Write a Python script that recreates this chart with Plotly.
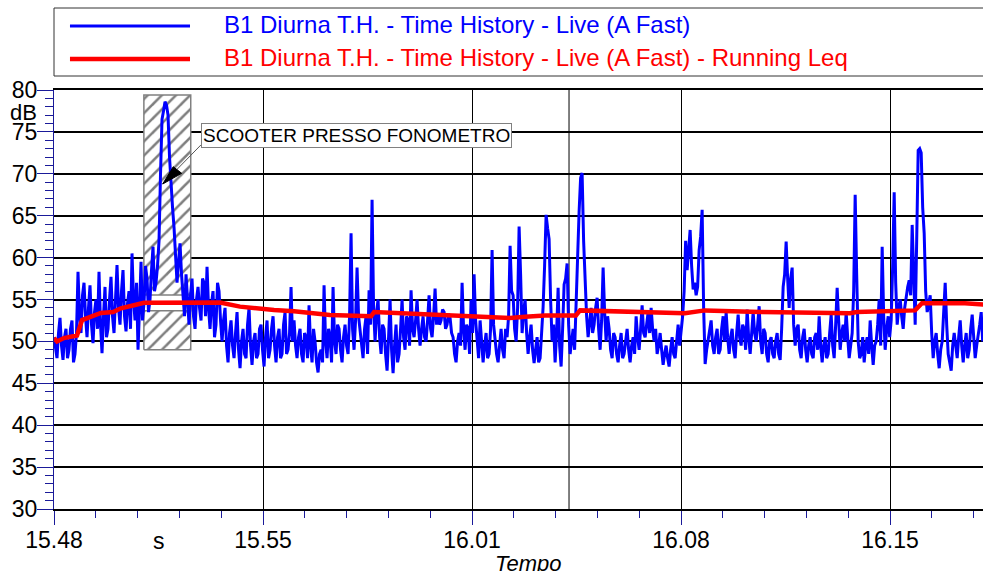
import numpy as np
import plotly.graph_objects as go

# ---------------- data ----------------
# x axis in minutes from 15:48; tick labels as printed on the chart
tick_minutes = [0, 7, 14, 21, 28]
tick_labels = ["15.48", "15.55", "16.01", "16.08", "16.15"]
x_end_min = 31.115
marker_line_min = 17.25          # unlabeled vertical marker line
sample_step_min = 0.1005         # spacing of the main time-history samples

# main samples (dB) and the in-between samples (dB, each one follows the main sample)
blue_a = [
    50.5, 48, 52.8, 47.8, 51.5, 49, 52.5, 48.5, 58.3, 51,
    57, 50.5, 56.7, 49.8, 55, 58.3, 48.6, 56.5, 51.5, 57.7,
    51, 59.1, 52, 58.5, 51.2, 56, 60.5, 52.5, 49, 59.5,
    54.6, 57.5, 55, 61.3, 57, 62, 76.5, 78.6, 77, 68,
    63.6, 57, 61.7, 55.5, 58, 52, 57.5, 51.5, 56.5, 52.5,
    57, 58.9, 51.5, 56, 52, 56, 50, 54, 47.5, 52.5,
    48, 53.5, 46.8, 51.5, 48, 54, 47.2, 51, 48.5, 52,
    47, 52.5, 49, 53, 47.5, 51.5, 48.5, 53.5, 49, 56.5,
    52.5, 48, 51.5, 47.5, 50.5, 54.3, 47.5, 50, 46.3, 49,
    56.7, 48, 50.5, 56.5, 48.5, 51.5, 47.5, 52, 48.5, 62.9,
]
blue_a_mid = [
    49, 51, 49.5, 50.5, 48, 51.5, 47.5, 51, 53, 55.5,
    53, 54, 52, 53.5, 51.5, 52, 53, 50.5, 55, 53,
    55, 54, 56, 53, 54.5, 51.5, 55, 57, 54, 52.5,
    59, 53.5, 58.5, 56, 59, 70, 77.5, 78.2, 72, 66,
    60, 59.5, 58, 53, 54.5, 55.5, 53, 55, 54, 57.5,
    53, 54, 54.5, 50.5, 57, 52.5, 52.5, 49.5, 51, 49.5,
    51, 49, 50, 48.5, 52, 49.5, 50, 48, 51.5, 49,
    50.5, 48, 51.5, 49.5, 50.5, 48, 52, 48.5, 51, 50,
    49.5, 50.5, 48.5, 51, 48, 49.5, 51.5, 47.5, 48.5, 47.5,
    50, 51.5, 47.5, 50, 52, 49, 50.5, 49.5, 53, 51.5,
]
blue_b = [
    49, 58.8, 51, 48, 53, 56.1, 66.9, 50, 55, 48.5,
    51.5, 46.5, 55, 46.2, 52, 48.5, 55, 49, 52.5, 56.1,
    50.5, 55, 49.5, 53, 50, 55.5, 50.5, 56.3, 53.2, 52.5,
    53.5, 52, 52.8, 50.5, 47.5, 51, 57, 49, 51.5, 55,
    58, 50, 52.5, 47.5, 51, 48.5, 60.9, 50, 47.5, 51.5,
    48, 50.5, 61.4, 55.5, 50, 63.7, 51, 55, 48.5, 52,
    47.4, 50.5, 48, 54.1, 65.1, 62.2, 50, 47.5, 56.4, 47,
    56.8, 59.3, 48.5, 51.5, 55, 65.5, 70.1, 56.6, 50.5, 54,
    52, 55.2, 49, 58.8, 50, 51.5, 48, 50.5, 47.5, 51,
    48.5, 51.5, 47.5, 50.5, 53, 49, 54.3, 50.5, 53.5, 54,
]
blue_b_mid = [
    52.5, 53, 49, 51.5, 48.5, 52, 54, 53.5, 50.5, 52,
    48.5, 50.5, 49, 49.5, 47.5, 51.5, 50.5, 53, 49.5, 51.5,
    52.5, 51.5, 51.5, 50.5, 52.5, 51.5, 53, 52, 52, 53.8,
    51.5, 53.3, 51, 48.5, 50, 49.5, 51.5, 52, 48.5, 51,
    52.5, 48, 50.5, 49.5, 48, 51.5, 52, 48.5, 50, 49,
    51.5, 53, 56, 51.5, 54, 58, 53.5, 51, 50.5, 49,
    49, 47.5, 51, 59, 63.5, 55, 52, 51, 49.5, 51.5,
    57.5, 52, 50, 49, 58, 69.5, 62, 53, 52.5, 51,
    54, 51.5, 52.5, 53.5, 53, 49, 51, 48.5, 49.5, 48,
    50, 49, 49.5, 48.5, 50.5, 51.5, 51, 52, 51, 51.5,
]
blue_c = [
    50, 48.5, 51, 47.2, 49.5, 47, 50.5, 48, 52, 51,
    56, 58.5, 63.3, 56.2, 55.5, 60.9, 65.7, 47.3, 50, 52.5,
    48.5, 51.5, 49, 53, 53.5, 48.5, 51.5, 48, 53.2, 49.5,
    51.5, 53.8, 48.5, 53.5, 50, 54.2, 48.5, 51, 47.5, 50.5,
    48, 51, 47.8, 56.5, 61.9, 54, 58.8, 49.5, 52, 48,
    51.5, 47.5, 50.5, 48, 51, 53, 47.5, 50.5, 48.5, 53.2,
    48, 56.4, 49, 52, 53.5, 48, 51, 67.5, 50, 48.5,
    47.5, 50.5, 52.5, 47.2, 50, 55, 61.3, 49, 53, 52.5,
    67.8, 52, 55, 51.5, 55.5, 57.3, 63.9, 52, 72.8, 72.5,
    62.9, 53.5, 55.5, 48, 51, 46.8, 50, 57, 48.5, 46.5,
    51, 48, 52.5, 47.5, 51, 49, 53.2, 48, 50.5, 53.5,
]
blue_c_mid = [
    51.5, 49.5, 49, 48.5, 48, 49, 48.5, 50, 49.5, 53,
    62, 60.5, 59, 57, 56.5, 62.5, 54, 49, 51.5, 49.5,
    50.5, 48.5, 51.5, 50, 50.5, 50.5, 49, 51, 50.5, 52,
    49, 50.5, 51, 51, 52, 50, 51.5, 48.5, 50, 48.5,
    50, 48.5, 51.5, 58, 57.5, 57.5, 52, 51.5, 49, 50.5,
    49, 49.5, 48.5, 50.5, 49, 49.5, 49.5, 48, 51, 49.5,
    52, 52.5, 51, 50, 50.5, 49.5, 56, 58, 48, 50.5,
    49.5, 48.5, 49.5, 49.5, 52, 49.5, 53, 51.5, 50.5, 59,
    57, 54, 53, 54, 56.5, 55.5, 56, 62, 73, 66,
    56, 54.5, 51, 50, 48.5, 49, 53.5, 52, 47.5, 49.5,
    49.5, 50.5, 49.5, 49.5, 48, 51.5, 50.5, 49.5, 52, 50,
]

leq_minutes = [0, 0.10, 0.33, 0.54, 0.77, 0.94, 1.27, 1.57, 1.98, 2.24, 2.71, 3.01,
               5.56, 6.23, 7.37, 8.04, 9.24, 10.62, 10.72, 14.94, 15.27, 15.78, 16.45,
               17.48, 17.62, 21.13, 21.80, 23.65, 26.66, 26.89, 28.10, 28.84, 29.07,
               30.51, 31.12]
leq_values = [50.4, 50.0, 50.4, 50.6, 50.7, 52.55, 52.95, 53.4, 53.5, 53.95, 54.35, 54.6,
              54.65, 54.15, 53.75, 53.6, 53.15, 53.0, 53.5, 52.9, 52.8, 52.95, 53.1,
              53.1, 53.7, 53.35, 53.7, 53.5, 53.35, 53.5, 53.6, 53.7, 54.55,
              54.55, 54.4]

event_minutes = [3.01, 4.58]          # hatched "scooter" event
event_levels = [49.0, 79.4]
event_label_levels = [53.66, 55.54]
event_text = "SCOOTER PRESSO FONOMETRO"
event_text_pos = [10.13, 74.63]
arrow_tip = [3.64, 68.78]
arrow_tail = [4.92, 73.44]
series_names = ["B1 Diurna T.H. - Time History - Live (A Fast)",
                "B1 Diurna T.H. - Time History - Live (A Fast) - Running Leq"]

# ---------------- figure ----------------
FONT = "Liberation Sans, Arial, sans-serif"
NAVY = "#1a1a99"

blue_main = blue_a + blue_b + blue_c
blue_mid = blue_a_mid + blue_b_mid + blue_c_mid
blue_vals = []
for s, m in zip(blue_main, blue_mid):
    blue_vals.extend([s, m])
blue_t = np.arange(len(blue_vals)) * (sample_step_min / 2)

fig = go.Figure()

# hatched event box
ex0, ex1 = event_minutes
ey0, ey1 = event_levels
fig.add_trace(go.Scatter(
    x=[ex0, ex1, ex1, ex0, ex0], y=[ey0, ey0, ey1, ey1, ey0],
    mode="lines", fill="toself",
    fillpattern=dict(shape="/", size=10, solidity=0.25, fgcolor="black", bgcolor="white"),
    fillcolor="white",
    line=dict(color="#808080", width=1.5), showlegend=False, hoverinfo="skip"))
ly0, ly1 = event_label_levels
fig.add_trace(go.Scatter(
    x=[ex0, ex1, ex1, ex0, ex0], y=[ly0, ly0, ly1, ly1, ly0],
    mode="lines", fill="toself", fillcolor="white",
    line=dict(color="#808080", width=1.5), showlegend=False, hoverinfo="skip"))

fig.add_trace(go.Scatter(x=blue_t, y=blue_vals, mode="lines",
                         line=dict(color="#0000FF", width=3), name=series_names[0],
                         showlegend=False))
fig.add_trace(go.Scatter(x=leq_minutes, y=leq_values, mode="lines",
                         line=dict(color="#FF0000", width=4.5), name=series_names[1],
                         showlegend=False))

fig.update_layout(
    width=983, height=571,
    margin=dict(l=54, r=0, t=90, b=62, autoexpand=False),
    paper_bgcolor="white", plot_bgcolor="white",
    font=dict(family=FONT, size=23, color="black"),
    showlegend=False,
)

fig.update_xaxes(
    range=[0, x_end_min], tickvals=tick_minutes, ticktext=tick_labels,
    showgrid=True, gridcolor="black", gridwidth=1,
    showline=True, linecolor="black", linewidth=2, mirror=True,
    ticks="outside", ticklen=14, tickcolor=NAVY, tickwidth=1,
    minor=dict(dtick=1.4, tick0=0, ticks="outside", ticklen=7, tickcolor=NAVY, showgrid=False),
    tickfont=dict(family=FONT, size=23, color="black"),
    ticklabelstandoff=-5,
    zeroline=False, automargin=False,
)
fig.update_yaxes(
    range=[30, 80], tick0=30, dtick=5,
    showgrid=True, gridcolor="black", gridwidth=2,
    showline=True, linecolor=NAVY, linewidth=1,
    ticks="outside", ticklen=16, tickcolor=NAVY, tickwidth=1,
    minor=dict(dtick=1, ticks="outside", ticklen=8, tickcolor=NAVY, showgrid=False),
    tickfont=dict(family=FONT, size=23, color="black"),
    ticklabelstandoff=-5,
    zeroline=False, automargin=False,
)

# unlabeled marker line
fig.add_shape(type="line", xref="x", yref="paper", x0=marker_line_min, x1=marker_line_min,
              y0=0, y1=1, line=dict(color="black", width=1), layer="below")

# custom legend
fig.add_shape(type="rect", xref="paper", yref="paper", x0=0, x1=1.01, y0=1.0334, y1=1.1957,
              line=dict(color="#333333", width=1), fillcolor="white")
leg_y = [1.1527, 1.074]
leg_colors = ["#0000FF", "#FF0000"]
leg_widths = [3, 4.5]
for yy, cc, ww, nm in zip(leg_y, leg_colors, leg_widths, series_names):
    fig.add_shape(type="line", xref="paper", yref="paper", x0=0.0172, x1=0.1464, y0=yy, y1=yy,
                  line=dict(color=cc, width=ww))
    fig.add_annotation(xref="paper", yref="paper", x=0.1808, y=yy + 0.004, xanchor="left",
                       yanchor="middle", text=nm, showarrow=False,
                       font=dict(family=FONT, size=24, color=cc))

# dB unit under top tick label
fig.add_annotation(xref="paper", yref="y", x=0, y=77.3, xanchor="right", yanchor="middle",
                   xshift=-15, text="dB", showarrow=False, font=dict(family=FONT, size=22))
# "s" unit on x axis
fig.add_annotation(xref="x", yref="paper", x=3.5, y=0, xanchor="center", yanchor="top",
                   yshift=-17, text="s", showarrow=False, font=dict(family=FONT, size=23))
# axis title
fig.add_annotation(xref="paper", yref="paper", x=0.5097, y=0, xanchor="center", yanchor="top",
                   yshift=-40, text="Tempo", showarrow=False,
                   font=dict(family=FONT, size=22, style="italic"))

# event annotation text + arrow
fig.add_annotation(xref="x", yref="y", x=event_text_pos[0], y=event_text_pos[1],
                   xanchor="center", yanchor="middle",
                   text=event_text, showarrow=False, bgcolor="white",
                   bordercolor="#808080", borderwidth=1, borderpad=1,
                   font=dict(family=FONT, size=19, color="black"))
fig.add_shape(type="line", xref="x", yref="y", x0=arrow_tail[0], y0=arrow_tail[1],
              x1=arrow_tip[0], y1=arrow_tip[1], line=dict(color="#555555", width=1))
fig.add_shape(type="path", xref="x", yref="y", xsizemode="pixel", ysizemode="pixel",
              xanchor=arrow_tip[0], yanchor=arrow_tip[1],
              path="M0,0 L10.6,17.3 L19,10.7 Z", fillcolor="black",
              line=dict(color="black", width=1))

fig.write_html("out.html", config={"displayModeBar": False},
               post_script="document.body.style.margin='0';document.body.style.overflow='hidden';")
